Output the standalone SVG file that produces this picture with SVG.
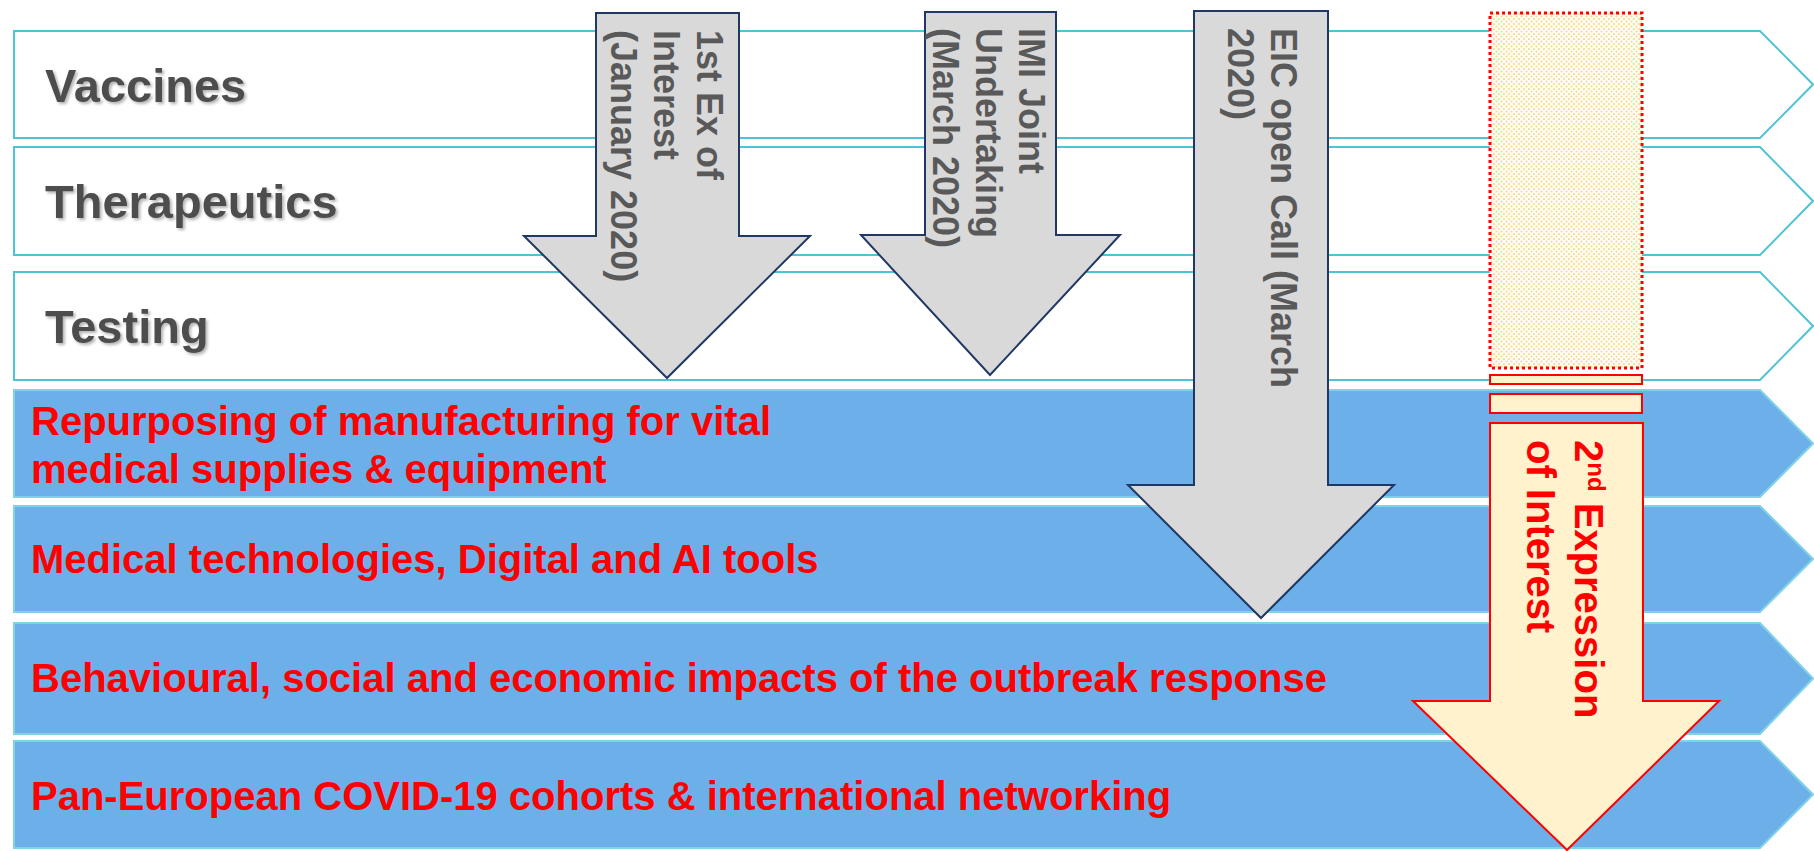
<svg xmlns="http://www.w3.org/2000/svg" width="1814" height="851" viewBox="0 0 1814 851">
<defs>
<style>
.wrow{fill:#ffffff;stroke:#4fc3d6;stroke-width:2}
.brow{fill:#6dafe9;stroke:#7fd3e6;stroke-width:2}
.gtxt{font-family:"Liberation Sans",Arial,sans-serif;font-weight:bold;font-size:47px;fill:#4d4d4d}
.rtxt{font-family:"Liberation Sans",Arial,sans-serif;font-weight:bold;font-size:40px;fill:#ff0000}
.garrow{fill:#d9d9d9;stroke:#1f3864;stroke-width:2;stroke-linejoin:miter}
.atxt{font-family:"Liberation Sans",Arial,sans-serif;font-weight:bold;font-size:36px;fill:#595959}
.ytxt{font-family:"Liberation Sans",Arial,sans-serif;font-weight:bold;font-size:40px;fill:#ff0000}
.yfill{fill:#fff2cc;stroke:#ff0000;stroke-width:2}
</style>
<filter id="shadow" x="-5%" y="-20%" width="110%" height="140%">
<feDropShadow dx="2" dy="2" stdDeviation="1.5" flood-color="#000000" flood-opacity="0.3"/>
</filter>
<pattern id="dots" width="5" height="5" patternUnits="userSpaceOnUse">
<rect width="5" height="5" fill="#fffdf4"/>
<circle cx="1.5" cy="1.5" r="1.1" fill="#f4dc98"/>
<circle cx="4" cy="4" r="1.1" fill="#f4dc98"/>
</pattern>
</defs>
<rect width="1814" height="851" fill="#ffffff"/>

<g id="row-vaccines">
<polygon class="wrow" points="14,31 1760,31 1813,84.5 1760,138 14,138"/>
<text class="gtxt" x="45" y="102" filter="url(#shadow)">Vaccines</text>
</g>
<g id="row-therapeutics">
<polygon class="wrow" points="14,147 1760,147 1813,201 1760,255 14,255"/>
<text class="gtxt" x="45" y="218" filter="url(#shadow)">Therapeutics</text>
</g>
<g id="row-testing">
<polygon class="wrow" points="14,272 1760,272 1813,326 1760,380 14,380"/>
<text class="gtxt" x="45" y="343" filter="url(#shadow)">Testing</text>
</g>
<g id="row-repurposing">
<polygon class="brow" points="14,390 1760,390 1813,443.5 1760,497 14,497"/>
<text class="rtxt" x="31" y="435">Repurposing of manufacturing for vital</text>
<text class="rtxt" x="31" y="483">medical supplies &amp; equipment</text>
</g>
<g id="row-medtech">
<polygon class="brow" points="14,506 1760,506 1813,559 1760,612 14,612"/>
<text class="rtxt" x="31" y="573">Medical technologies, Digital and AI tools</text>
</g>
<g id="row-behavioural">
<polygon class="brow" points="14,623 1760,623 1813,678.5 1760,734 14,734"/>
<text class="rtxt" x="31" y="692">Behavioural, social and economic impacts of the outbreak response</text>
</g>
<g id="row-cohorts">
<polygon class="brow" points="14,741 1760,741 1813,794.5 1760,848 14,848"/>
<text class="rtxt" x="31" y="810">Pan-European COVID-19 cohorts &amp; international networking</text>
</g>

<g id="connectors">
<g id="arrow-1st-ex">
<polygon class="garrow" points="596,13 739,13 739,236 810,236 667,378 524,236 596,236"/>
<text class="atxt" transform="translate(697,30) rotate(90)"><tspan x="0" y="0">1st Ex of</tspan><tspan x="0" y="43">Interest</tspan><tspan x="0" y="86">(January 2020)</tspan></text>
</g>
<g id="arrow-imi">
<polygon class="garrow" points="925,12 1056,12 1056,235 1120,235 990,375 861,235 925,235"/>
<text class="atxt" transform="translate(1019,28) rotate(90)"><tspan x="0" y="0">IMI Joint</tspan><tspan x="0" y="43">Undertaking</tspan><tspan x="0" y="86">(March 2020)</tspan></text>
</g>
<g id="arrow-eic">
<polygon class="garrow" points="1194,11 1328,11 1328,485 1394,485 1261,618 1128,485 1194,485"/>
<text class="atxt" transform="translate(1271,28) rotate(90)"><tspan x="0" y="0">EIC open Call (March</tspan><tspan x="0" y="43">2020)</tspan></text>
</g>
<g id="arrow-2nd-eoi">
<rect x="1490" y="13" width="152" height="355" fill="url(#dots)" stroke="#ff0000" stroke-width="3" stroke-dasharray="3,3"/>
<rect class="yfill" x="1490" y="375" width="152" height="9"/>
<rect class="yfill" x="1490" y="394" width="152" height="19"/>
<polygon class="yfill" points="1490,423 1643,423 1643,701 1719,701 1567,850 1413,701 1490,701"/>
<text class="ytxt" transform="translate(1575,440) rotate(90)"><tspan x="0" y="0">2</tspan><tspan font-size="24" dy="-13">nd</tspan><tspan dy="13"> Expression</tspan><tspan x="0" y="48">of Interest</tspan></text>
</g>
</g>
</svg>
